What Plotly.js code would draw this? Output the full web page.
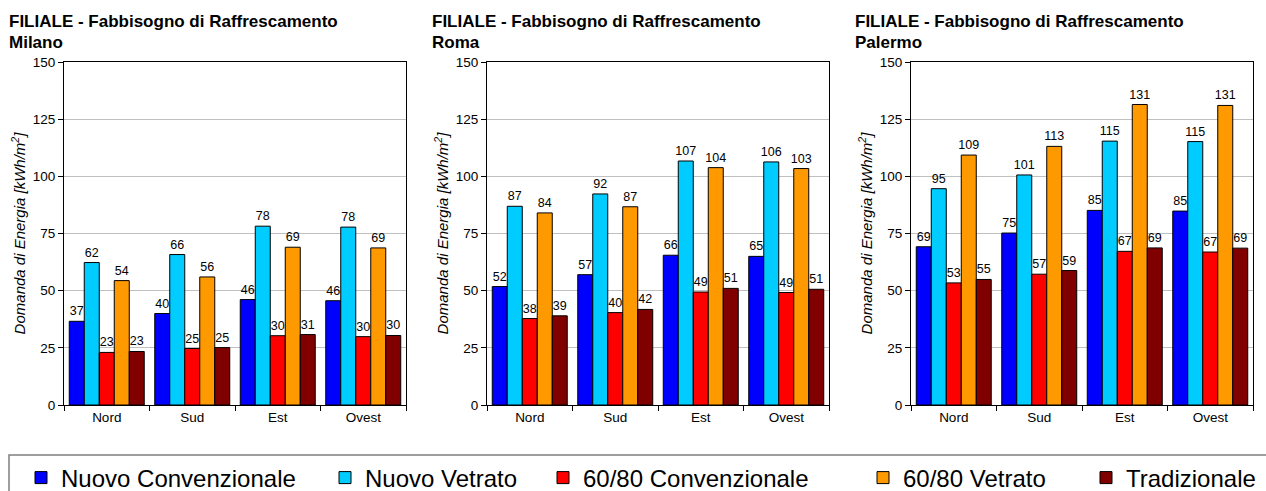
<!DOCTYPE html>
<html>
<head>
<meta charset="utf-8">
<script src="https://cdn.plot.ly/plotly-3.0.1.min.js"></script>
<style>html,body{margin:0;padding:0;background:#fff;}#chart{width:1266px;height:491px;}</style>
</head>
<body>
<div id="chart"></div>
<script>
// ---- data ----
const categories = ["Nord", "Sud", "Est", "Ovest"];
const seriesNames = ["Nuovo Convenzionale", "Nuovo Vetrato", "60/80 Convenzionale", "60/80 Vetrato", "Tradizionale"];
const seriesColors = ["#0000FF", "#00CCFF", "#FF0000", "#FF9900", "#800000"];
const cities = ["Milano", "Roma", "Palermo"];
const chartTitle = "FILIALE - Fabbisogno di Raffrescamento";
const yTitle = "Domanda di Energia [kWh/m<sup>2</sup>]";
const yTicks = [0, 25, 50, 75, 100, 125, 150];

// Milano
const milanoNuovoConv   = [36.6, 40.0, 46.1, 45.6];
const milanoNuovoVetr   = [62.3, 65.8, 78.2, 77.8];
const milano6080Conv    = [23.0, 24.7, 30.3, 29.9];
const milano6080Vetr    = [54.4, 56.0, 69.0, 68.7];
const milanoTrad        = [23.4, 25.1, 30.8, 30.4];
// Roma
const romaNuovoConv     = [51.8, 57.0, 65.5, 65.0];
const romaNuovoVetr     = [86.9, 92.3, 106.7, 106.3];
const roma6080Conv      = [37.8, 40.4, 49.4, 49.2];
const roma6080Vetr      = [84.0, 86.7, 103.8, 103.4];
const romaTrad          = [39.0, 41.8, 51.0, 50.6];
// Palermo
const palermoNuovoConv  = [69.2, 75.2, 85.1, 84.8];
const palermoNuovoVetr  = [94.6, 100.6, 115.4, 115.2];
const palermo6080Conv   = [53.4, 57.2, 67.2, 66.9];
const palermo6080Vetr   = [109.3, 113.1, 131.4, 131.0];
const palermoTrad       = [54.9, 58.8, 68.7, 68.6];

const cityData = [
  [milanoNuovoConv, milanoNuovoVetr, milano6080Conv, milano6080Vetr, milanoTrad],
  [romaNuovoConv, romaNuovoVetr, roma6080Conv, roma6080Vetr, romaTrad],
  [palermoNuovoConv, palermoNuovoVetr, palermo6080Conv, palermo6080Vetr, palermoTrad]
];

// ---- layout helpers ----
const W = 1266, H = 491;
const FONT = "Liberation Sans, Arial, Helvetica, sans-serif";
const px = v => v / W;
const py = v => 1 - v / H;
const plotLeft = [64, 487, 911];
const plotWidth = 342;
const plotTop = 62, plotBottom = 405;
const titleLeft = [7, 430, 853];
const legendTextStart = [58, 362, 580, 900, 1123];
const legendNames = ["legend", "legend2", "legend3", "legend4", "legend5"];

const traces = [];
cityData.forEach((series, ci) => {
  const ax = ci === 0 ? "" : String(ci + 1);
  series.forEach((vals, si) => {
    traces.push({
      type: "bar",
      x: categories,
      y: vals,
      name: seriesNames[si],
      xaxis: "x" + ax,
      yaxis: "y" + ax,
      marker: {color: seriesColors[si], line: {color: "#000000", width: 1}},
      texttemplate: "%{y:.0f}",
      textposition: "outside",
      constraintext: "none",
      cliponaxis: false,
      textfont: {family: FONT, size: 12.5, color: "#000000"},
      showlegend: ci === 0,
      legend: legendNames[si],
      hoverinfo: "x+y+name"
    });
  });
});

const layout = {
  width: W, height: H,
  margin: {l: 0, r: 0, t: 0, b: 0, autoexpand: false},
  paper_bgcolor: "#ffffff",
  plot_bgcolor: "#ffffff",
  font: {family: FONT, size: 13, color: "#000000"},
  barmode: "group",
  bargap: 0.123,
  bargroupgap: 0,
  annotations: [],
  shapes: [{
    type: "rect", xref: "paper", yref: "paper",
    x0: px(9), x1: px(1275), y0: py(500), y1: py(455),
    line: {color: "#7f7f7f", width: 1.5}, fillcolor: "rgba(0,0,0,0)"
  }]
};

cities.forEach((city, ci) => {
  const ax = ci === 0 ? "" : String(ci + 1);
  layout["xaxis" + ax] = {
    domain: [px(plotLeft[ci]), px(plotLeft[ci] + plotWidth)],
    anchor: "y" + ax,
    type: "category",
    showline: true, linecolor: "#000000", linewidth: 1, mirror: true,
    ticks: "outside", ticklen: 5, tickcolor: "#000000", tickson: "boundaries",
    showgrid: false, zeroline: false,
    tickfont: {family: FONT, size: 13.5, color: "#000000"},
    fixedrange: true
  };
  layout["yaxis" + ax] = {
    domain: [py(plotBottom), py(plotTop)],
    anchor: "x" + ax,
    range: [0, 150],
    tickvals: yTicks,
    showline: true, linecolor: "#000000", linewidth: 1, mirror: true,
    ticks: "outside", ticklen: 5, tickcolor: "#000000",
    showgrid: true, gridcolor: "#c0c0c0", gridwidth: 1,
    zeroline: false,
    tickfont: {family: FONT, size: 13.5, color: "#000000"},
    title: {text: yTitle, font: {family: FONT, size: 15, color: "#000000", style: "italic"}, standoff: 3},
    fixedrange: true
  };
  layout.annotations.push({
    xref: "paper", yref: "paper", x: px(titleLeft[ci]), y: py(21),
    xanchor: "left", yanchor: "middle", showarrow: false,
    text: "<b>" + chartTitle + "</b>",
    font: {family: FONT, size: 17, color: "#000000"}
  });
  layout.annotations.push({
    xref: "paper", yref: "paper", x: px(titleLeft[ci]), y: py(42),
    xanchor: "left", yanchor: "middle", showarrow: false,
    text: "<b>" + city + "</b>",
    font: {family: FONT, size: 17, color: "#000000"}
  });
});

legendNames.forEach((ln, i) => {
  layout[ln] = {
    orientation: "h",
    x: px(legendTextStart[i] - 37), xanchor: "left",
    y: py(478), yanchor: "middle",
    bgcolor: "rgba(0,0,0,0)", borderwidth: 0,
    font: {family: FONT, size: 24, color: "#000000"}
  };
});

Plotly.newPlot("chart", traces, layout, {displayModeBar: false, staticPlot: true});
</script>
</body>
</html>
